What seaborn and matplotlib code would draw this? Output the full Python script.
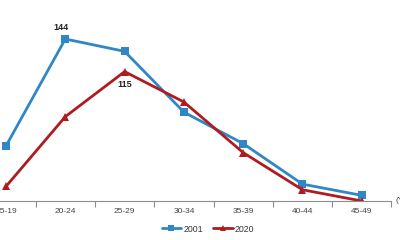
import matplotlib
matplotlib.use("Agg")
import matplotlib.pyplot as plt
import seaborn as sns
import pandas as pd
from matplotlib.ticker import FixedLocator
from matplotlib.lines import Line2D

ages = ["15-19", "20-24", "25-29", "30-34", "35-39", "40-44", "45-49"]
rates_2001 = [49, 144, 133, 79, 51, 15, 5]
rates_2020 = [13, 75, 115, 88, 43, 10, 0]
series_names = ["2001", "2020"]
axis_note = "(Yaş)"

df = pd.DataFrame({
    "age": ages * 2,
    "rate": rates_2001 + rates_2020,
    "year": [series_names[0]] * len(ages) + [series_names[1]] * len(ages),
})

sns.set_theme(style="white")
plt.rcParams["font.family"] = ["Liberation Sans", "DejaVu Sans"]

fig = plt.figure(figsize=(4, 2.4), dpi=100)
ax = fig.add_axes([-0.059, 0.1625, 1.0375, 0.75])

blue = "#2F87C6"
red = "#AE1C20"
sns.lineplot(data=df, x="age", y="rate", hue="year", style="year",
             palette={"2001": blue, "2020": red},
             markers={"2001": "s", "2020": "^"}, dashes=False,
             linewidth=2.0, markersize=5.5, markeredgewidth=0,
             ax=ax, legend=False, sort=False)

ax.set_xlim(-0.5, 6.5)
ax.set_ylim(0, 160)
for s in ["top", "right", "left"]:
    ax.spines[s].set_visible(False)
ax.spines["bottom"].set_color("#8C8C8C")
ax.spines["bottom"].set_linewidth(0.8)
ax.set_yticks([])
ax.set_xlabel("")
ax.set_ylabel("")
ax.tick_params(axis="x", which="major", length=0, labelsize=6, labelcolor="#444444", pad=5)
ax.xaxis.set_minor_locator(FixedLocator([i + 0.5 for i in range(-1, len(ages))]))
ax.tick_params(axis="x", which="minor", length=4, width=0.8, color="#8C8C8C", bottom=True)

# value annotations
i144 = rates_2001.index(max(rates_2001))
ax.annotate(str(rates_2001[i144]), (i144, rates_2001[i144]), xytext=(-3, 5),
            textcoords="offset points", ha="center", va="bottom",
            fontsize=6.5, fontweight="bold", color="#222222")
i115 = rates_2020.index(max(rates_2020))
ax.annotate(str(rates_2020[i115]), (i115, rates_2020[i115]), xytext=(0, -6),
            textcoords="offset points", ha="center", va="top",
            fontsize=6.5, fontweight="bold", color="#222222")

fig.text(395 / 400, 1 - 201 / 240, axis_note, fontsize=6, color="#444444",
         ha="left", va="center")

handles = [Line2D([], [], color=blue, marker="s", markersize=4, lw=2.0, markeredgewidth=0),
           Line2D([], [], color=red, marker="^", markersize=4.5, lw=2.0, markeredgewidth=0)]
fig.legend(handles, series_names, loc="center", bbox_to_anchor=(0.52, 1 - 229 / 240),
           ncol=2, frameon=False, fontsize=6.3, handlelength=2.2, columnspacing=1.2,
           handletextpad=0.25, labelcolor="#333333")

fig.savefig("out.png", dpi=100)
